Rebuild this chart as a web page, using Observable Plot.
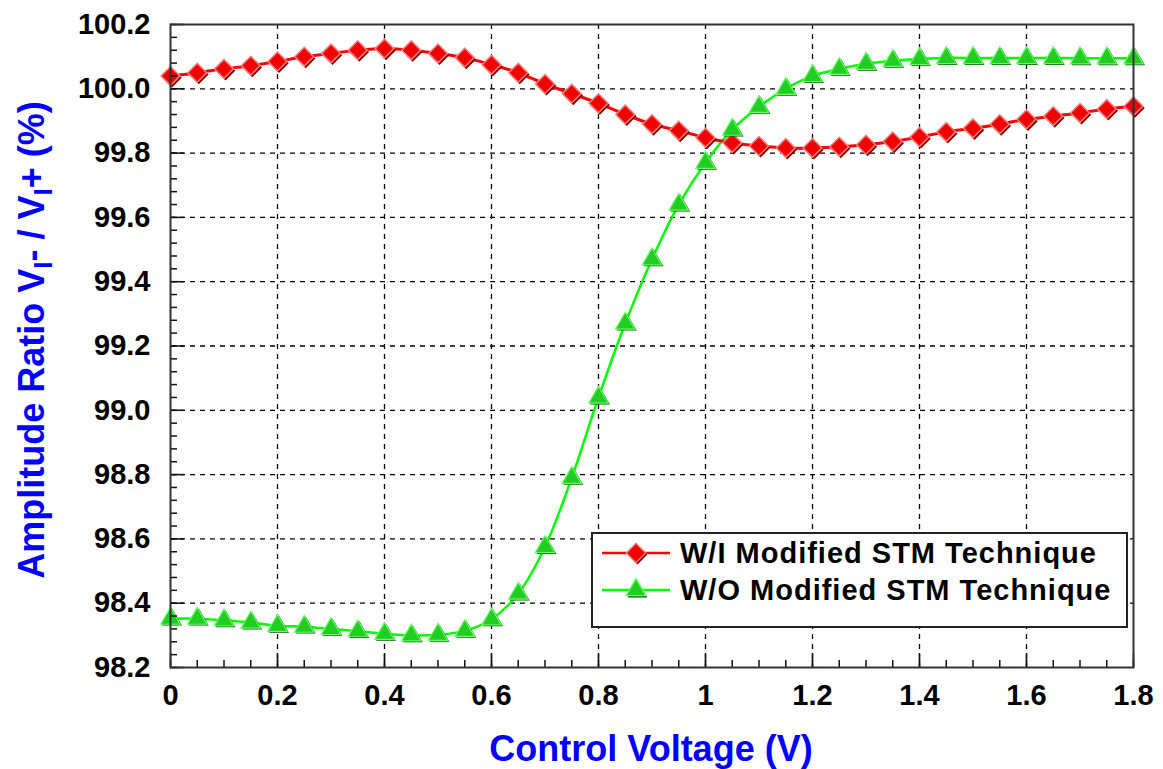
<!DOCTYPE html>
<html>
<head>
<meta charset="utf-8">
<script src="https://cdn.jsdelivr.net/npm/d3@7"></script>
<script src="https://cdn.jsdelivr.net/npm/@observablehq/plot@0.6"></script>
<style>
  html, body { margin: 0; padding: 0; background: #fff; }
  #chart svg { display: block; }
</style>
</head>
<body>
<div id="chart"></div>
<script>
// ---- Data ----
const voltage = [0,0.05,0.1,0.15,0.2,0.25,0.3,0.35,0.4,0.45,0.5,0.55,0.6,0.65,0.7,0.75,0.8,0.85,0.9,0.95,1.0,1.05,1.1,1.15,1.2,1.25,1.3,1.35,1.4,1.45,1.5,1.55,1.6,1.65,1.7,1.75,1.8];
const withModified = [100.04,100.05,100.062,100.072,100.085,100.10,100.11,100.12,100.125,100.12,100.11,100.097,100.075,100.05,100.015,99.985,99.955,99.92,99.89,99.87,99.848,99.832,99.822,99.816,99.816,99.82,99.826,99.836,99.85,99.866,99.877,99.89,99.905,99.915,99.925,99.937,99.946];
const withoutModified = [98.352,98.352,98.347,98.34,98.33,98.327,98.32,98.313,98.305,98.30,98.302,98.314,98.35,98.43,98.575,98.79,99.04,99.27,99.47,99.64,99.77,99.873,99.944,100.0,100.04,100.062,100.078,100.087,100.093,100.096,100.096,100.096,100.096,100.096,100.095,100.095,100.095];
const seriesNames = ["W/I Modified STM Technique", "W/O Modified STM Technique"];
const xTicks = [0,0.2,0.4,0.6,0.8,1,1.2,1.4,1.6,1.8];
const xTickLabels = ["0","0.2","0.4","0.6","0.8","1","1.2","1.4","1.6","1.8"];
const yTicks = [98.2,98.4,98.6,98.8,99.0,99.2,99.4,99.6,99.8,100.0,100.2];
const yTickLabels = ["98.2","98.4","98.6","98.8","99.0","99.2","99.4","99.6","99.8","100.0","100.2"];
const xMinor = d3.range(0, 37).map(i => +(i * 0.05).toFixed(2));
const yMinor = d3.range(0, 51).map(i => +(98.2 + i * 0.04).toFixed(2));

const red = voltage.map((x, i) => ({x, y: withModified[i]}));
const green = voltage.map((x, i) => ({x, y: withoutModified[i]}));

const font = "'Liberation Sans', Arial, sans-serif";

const W = 1163, H = 769;
const mL = 170, mR = 30, mT = 24, mB = 102;
const frameW = W - mL - mR, frameH = H - mT - mB;

const xLabel = d => { const i = xTicks.findIndex(t => Math.abs(t - d) < 1e-9); return i >= 0 ? xTickLabels[i] : ""; };
const yLabel = d => { const i = yTicks.findIndex(t => Math.abs(t - d) < 1e-9); return i >= 0 ? yTickLabels[i] : ""; };

const chart = Plot.plot({
  width: W, height: H,
  marginLeft: mL, marginRight: mR, marginTop: mT, marginBottom: mB,
  style: {fontFamily: font, fontSize: "29px", fontWeight: "bold", color: "#000", background: "#fff", overflow: "visible"},
  x: {domain: [0, 1.8], ticks: xTicks, tickFormat: xLabel, tickSize: 0, tickPadding: 17, label: null},
  y: {domain: [98.2, 100.2], ticks: yTicks, tickFormat: yLabel, tickSize: 0, tickPadding: 20, label: null},
  marks: [
    Plot.gridX(xTicks.slice(1, -1), {stroke: "#000", strokeOpacity: 1, strokeWidth: 1.3, strokeDasharray: "5,5"}),
    Plot.gridY(yTicks.slice(1, -1), {stroke: "#000", strokeOpacity: 1, strokeWidth: 1.3, strokeDasharray: "5,5"}),
    // lines
    Plot.line(green, {x: "x", y: "y", stroke: "#00ff00", strokeWidth: 2.5, curve: "catmull-rom"}),
    Plot.line(red, {x: "x", y: "y", stroke: "#ff0000", strokeWidth: 3, curve: "catmull-rom"}),
    // red diamonds (shadow + body)
    Plot.dot(red, {x: "x", y: "y", symbol: "diamond2", r: 8.8, fill: "#8b0000", dx: 1.5, dy: 1.8}),
    Plot.dot(red, {x: "x", y: "y", symbol: "diamond2", r: 8.5, fill: "#f20000", stroke: "#f08080", strokeWidth: 1.5}),
    // green triangles (shadow + body)
    Plot.dot(green, {x: "x", y: "y", symbol: "triangle", r: 7.4, fill: "#006400", dx: 1.5, dy: 1.2}),
    Plot.dot(green, {x: "x", y: "y", symbol: "triangle", r: 7.2, fill: "#22cc22", stroke: "#66ff66", strokeWidth: 1.2}),
    // inward ticks
    Plot.tickX(xTicks, {x: d => d, insetTop: frameH - 14, stroke: "#111", strokeWidth: 1.5}),
    Plot.tickX(xMinor, {x: d => d, insetTop: frameH - 7, stroke: "#111", strokeWidth: 1.5}),
    Plot.tickY(yTicks, {y: d => d, insetRight: frameW - 14, stroke: "#111", strokeWidth: 1.5}),
    Plot.tickY(yMinor, {y: d => d, insetRight: frameW - 7, stroke: "#111", strokeWidth: 1.5}),
    Plot.frame({stroke: "#333", strokeWidth: 2})
  ]
});

document.getElementById("chart").appendChild(chart);

// ---- Axis titles and legend ----
const svg = d3.select(chart);
const blue = "#0000ff";

svg.append("text")
  .attr("x", 651).attr("y", 761)
  .attr("text-anchor", "middle")
  .attr("font-family", font).attr("font-weight", "bold").attr("font-size", 36)
  .attr("fill", blue)
  .text("Control Voltage (V)");

const yt = svg.append("text")
  .attr("transform", "translate(44,340) rotate(-90)")
  .attr("text-anchor", "middle")
  .attr("font-family", font).attr("font-weight", "bold").attr("font-size", 36)
  .attr("fill", blue);
yt.append("tspan").text("Amplitude Ratio V");
yt.append("tspan").attr("font-size", 26).attr("dy", 8).text("I");
yt.append("tspan").attr("dy", -8).text("- / V");
yt.append("tspan").attr("font-size", 26).attr("dy", 8).text("I");
yt.append("tspan").attr("dy", -8).text("+ (%)");

// legend
const lg = svg.append("g").attr("text-anchor", "start");
lg.append("rect").attr("x", 592).attr("y", 533).attr("width", 535).attr("height", 94)
  .attr("fill", "#fff").attr("stroke", "#222").attr("stroke-width", 2);
const legendRows = [
  {name: seriesNames[0], color: "#ff0000", sym: d3.symbolDiamond2, size: 240, fill: "#f20000", shade: "#8b0000", edge: "#f08080"},
  {name: seriesNames[1], color: "#00ff00", sym: d3.symbolTriangle, size: 170, fill: "#22cc22", shade: "#006400", edge: "#66ff66"}
];
legendRows.forEach((r, i) => {
  const cy = 553 + i * 37;
  lg.append("line").attr("x1", 602).attr("x2", 670).attr("y1", cy).attr("y2", cy)
    .attr("stroke", r.color).attr("stroke-width", 2.5);
  lg.append("path").attr("d", d3.symbol(r.sym, r.size)()).attr("transform", `translate(${637.5},${cy + 1.8})`).attr("fill", r.shade);
  lg.append("path").attr("d", d3.symbol(r.sym, r.size)()).attr("transform", `translate(${636},${cy})`)
    .attr("fill", r.fill).attr("stroke", r.edge).attr("stroke-width", 1.3);
  lg.append("text").attr("x", 680).attr("y", cy).attr("dy", "0.36em")
    .attr("text-anchor", "start")
    .attr("font-family", font).attr("font-weight", "bold").attr("font-size", 29)
    .attr("letter-spacing", 1)
    .attr("fill", "#000").text(r.name);
});
</script>
</body>
</html>
